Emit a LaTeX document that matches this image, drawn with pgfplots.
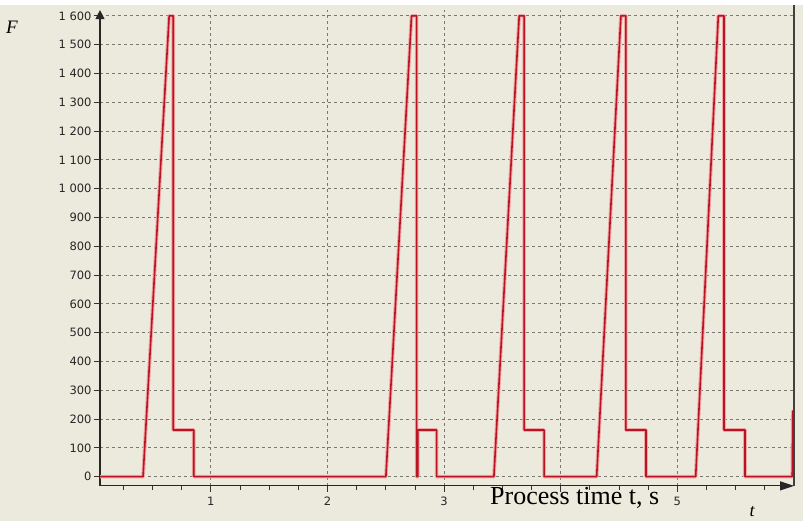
\documentclass[border=0pt]{standalone}
\usepackage{fontspec}
\setmainfont{Liberation Serif}
\newfontfamily\tickfont{DejaVu Sans}
\usepackage{pgfplots}
\pgfplotsset{compat=1.18}
\usetikzlibrary{arrows.meta}
\definecolor{bg}{RGB}{236,234,220}
\definecolor{gridc}{RGB}{120,120,115}
\definecolor{sig}{RGB}{185,20,35}
\definecolor{halo}{RGB}{242,165,165}
\begin{document}
\begin{tikzpicture}[x=1pt,y=1pt]
\fill[bg] (0,0) rectangle (803,521);
\fill[white] (0,516) rectangle (803,521);
\useasboundingbox (0,0) rectangle (803,521);
\begin{axis}[
  at={(100pt,35.1pt)}, anchor=south west,
  scale only axis, width=694pt, height=475.8pt,
  xmin=0.05, xmax=6, ymin=-32, ymax=1620,
  axis lines=left,
  x axis line style={-{Triangle[length=14pt,width=9pt]}, line width=1.2pt, black!85},
  y axis line style={-{Triangle[length=9pt,width=9pt]}, line width=1.2pt, black!85},
  xtick={1,2,3,4,5}, xticklabels={1,2,3,,5},
  minor xtick={0.25,0.5,...,5.75},
  ytick={0,100,...,1600},
  yticklabels={0,100,200,300,400,500,600,700,800,900,1 000,1 100,1 200,1 300,1 400,1 500,1 600},
  tick align=outside,
  major tick length=6pt, minor tick length=4pt,
  every tick/.style={black!80, line width=0.8pt},
  grid=major,
  major grid style={gridc, line width=0.8pt, dash pattern=on 3pt off 3pt},
  ticklabel style={font=\tickfont\fontsize{11.5}{12}\selectfont, black!85},
  yticklabel style={xshift=1pt},
  xticklabel style={yshift=-2pt},
  clip=false,
]
\addplot[halo, line width=3.6pt, line join=round] table {
x y
0.05 0
0.419 0
0.643 1600
0.678 1600
0.678 162
0.854 162
0.854 0
2.501 0
2.721 1600
2.764 1600
2.764 0
2.775 0
2.775 162
2.936 162
2.936 0
3.427 0
3.644 1600
3.686 1600
3.686 162
3.858 162
3.858 0
4.308 0
4.516 1600
4.558 1600
4.558 162
4.731 162
4.731 0
5.157 0
5.351 1600
5.400 1600
5.400 162
5.580 162
5.580 0
5.985 0
5.990 230
};
\addplot[sig, line width=1.6pt, line join=round] table {
x y
0.05 0
0.419 0
0.643 1600
0.678 1600
0.678 162
0.854 162
0.854 0
2.501 0
2.721 1600
2.764 1600
2.764 0
2.775 0
2.775 162
2.936 162
2.936 0
3.427 0
3.644 1600
3.686 1600
3.686 162
3.858 162
3.858 0
4.308 0
4.516 1600
4.558 1600
4.558 162
4.731 162
4.731 0
5.157 0
5.351 1600
5.400 1600
5.400 162
5.580 162
5.580 0
5.985 0
5.990 230
};
\end{axis}
\draw[black!75, line width=1.2pt] (794,35.1) -- (794,516);
\node[font=\itshape\fontsize{19}{20}\selectfont] at (12,494) {F};
\node[font=\itshape\fontsize{18}{20}\selectfont] at (752,9) {t};
\node[anchor=base west, font=\fontsize{26}{28}\selectfont, inner sep=0pt] at (490,16) {Process time t, s};
\end{tikzpicture}
\end{document}
